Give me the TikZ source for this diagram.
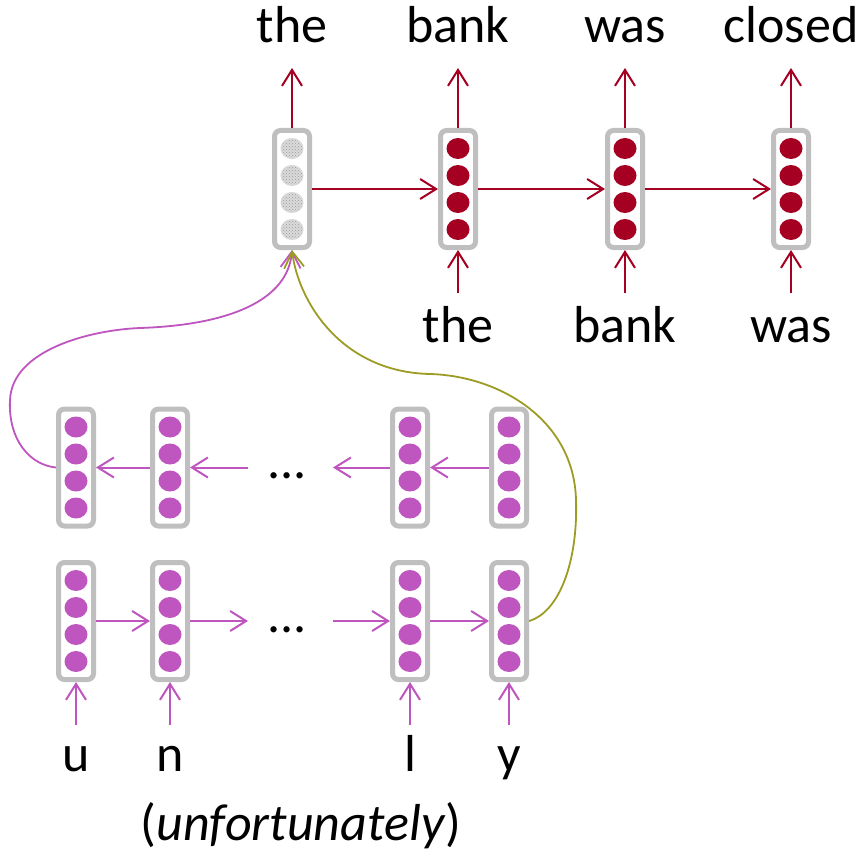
\documentclass[tikz,border=0pt]{standalone}
\usepackage{fontspec}
\setmainfont{Carlito}
\usetikzlibrary{arrows.meta,patterns}
\definecolor{dred}{HTML}{A50021}
\definecolor{magc}{HTML}{BF55BF}
\definecolor{olivec}{HTML}{9C9C25}
\begin{document}
\begin{tikzpicture}[x=1pt,y=-1pt,
  vec/.style={draw=black!25, line width=5pt, rounded corners=6pt, minimum width=35pt, minimum height=117pt, inner sep=0pt, fill=white},
  lbl/.style={anchor=base, font=\fontsize{52}{60}\selectfont, inner sep=0pt},
  arr/.style={line width=2pt, -{Straight Barb[length=16pt,width=20pt]}},
  curve/.style={line width=1.8pt, -{Straight Barb[length=16pt,width=20pt]}}
]
\useasboundingbox (0,0) rectangle (862,856);

% ---- top row (decoder) ----
\node[vec] (t1) at (292,189) {};
\node[vec] (t2) at (458,189) {};
\node[vec] (t3) at (625,189) {};
\node[vec] (t4) at (791,189) {};
\foreach \d in {-40.5,-13.5,13.5,40.5}{
  \path[preaction={fill=black!14}, pattern=crosshatch dots, pattern color=black!40, draw=black!15, line width=1pt]
     (t1.center) ++(0,\d) ellipse [x radius=11pt, y radius=10pt];
  \foreach \b in {t2,t3,t4}{
    \fill[dred] (\b.center) ++(0,\d) ellipse [x radius=11.5pt, y radius=10.5pt];
  }
}

% top output labels
\node[lbl] (o1) at (292,43) {the};
\node[lbl] (o2) at (458,43) {bank};
\node[lbl] (o3) at (625,43) {was};
\node[lbl] (o4) at (791,43) {closed};
\coordinate (p1) at (292,68);
\coordinate (p2) at (458,68);
\coordinate (p3) at (625,68);
\coordinate (p4) at (791,68);
\foreach \i in {1,2,3,4}{ \draw[arr, dred] (t\i.north) -- (p\i); }

% top input labels
\node[lbl] (i2) at (458,342) {the};
\node[lbl] (i3) at (625,342) {bank};
\node[lbl] (i4) at (791,342) {was};
\coordinate (q2) at (458,293);
\coordinate (q3) at (625,293);
\coordinate (q4) at (791,293);
\foreach \i in {2,3,4}{ \draw[arr, dred] (q\i) -- (t\i.south); }

\draw[arr, dred] (t1.east) -- (t2.west);
\draw[arr, dred] (t2.east) -- (t3.west);
\draw[arr, dred] (t3.east) -- (t4.west);

% ---- bottom (character encoder) ----
\node[vec] (l1) at (76,467.5) {};
\node[vec] (l2) at (170,467.5) {};
\node[vec] (l3) at (410,467.5) {};
\node[vec] (l4) at (509,467.5) {};
\node[vec] (u1) at (76,621) {};
\node[vec] (u2) at (170,621) {};
\node[vec] (u3) at (410,621) {};
\node[vec] (u4) at (509,621) {};
\foreach \d in {-40.5,-13.5,13.5,40.5}{
  \foreach \b in {l1,l2,l3,l4,u1,u2,u3,u4}{
    \fill[magc] (\b.center) ++(0,\d) ellipse [x radius=11.5pt, y radius=10.5pt];
  }
}

\node[lbl] (dots1) at (287,478) {...};
\node[lbl] (dots2) at (287,632) {...};

\coordinate (la) at (248,467.5);
\coordinate (lb) at (333,467.5);
\coordinate (ua) at (248,621);
\coordinate (ub) at (333,621);

\draw[arr, magc] (l2.west) -- (l1.east);
\draw[arr, magc] (la) -- (l2.east);
\draw[arr, magc] (l3.west) -- (lb);
\draw[arr, magc] (l4.west) -- (l3.east);

\draw[arr, magc] (u1.east) -- (u2.west);
\draw[arr, magc] (u2.east) -- (ua);
\draw[arr, magc] (ub) -- (u3.west);
\draw[arr, magc] (u3.east) -- (u4.west);

% character labels
\node[lbl] (c1) at (76,771) {u};
\node[lbl] (c2) at (170,771) {n};
\node[lbl] (c3) at (410,771) {l};
\node[lbl] (c4) at (509,771) {y};
\coordinate (r1) at (76,725);
\coordinate (r2) at (170,725);
\coordinate (r3) at (410,725);
\coordinate (r4) at (509,725);
\foreach \i in {1,2,3,4}{ \draw[arr, magc] (r\i) -- (u\i.south); }

\node[lbl] (word) at (301,840) {(\textit{unfortunately})};

% ---- curves to decoder initial state ----
\draw[curve, magc] (l1.west) .. controls (30,465) and (8,440) .. (10,400)
   .. controls (12,350) and (90,330) .. (140,328)
   .. controls (230,325) and (288,300) .. (t1.south);
\draw[curve, olivec] (u4.east) .. controls (560,612) and (578,560) .. (576,500)
   .. controls (574,420) and (500,376) .. (430,374)
   .. controls (340,372) and (298,300) .. (t1.south);
\end{tikzpicture}
\end{document}
